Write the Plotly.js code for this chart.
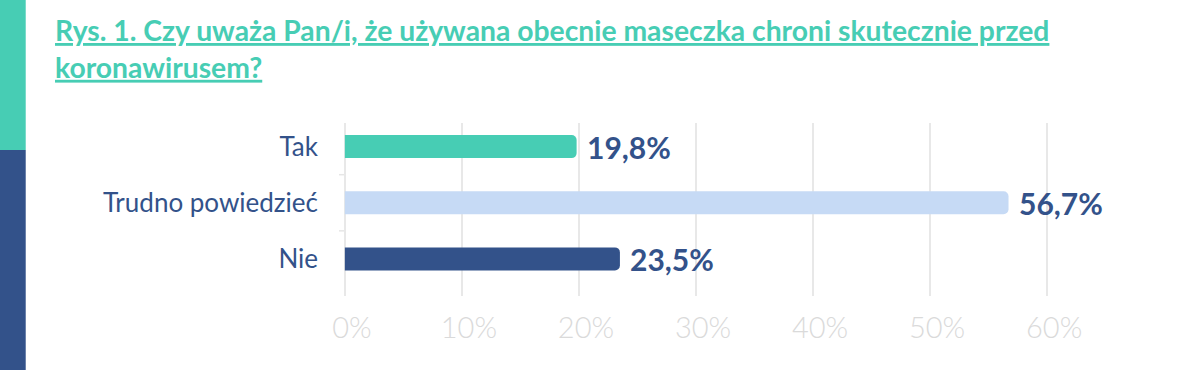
<!DOCTYPE html>
<html>
<head>
<meta charset="utf-8">
<script src="https://cdn.plot.ly/plotly-3.0.1.min.js"></script>
<style>html,body{margin:0;padding:0;background:#fff;}#chart{width:1191px;height:370px;}</style>
</head>
<body>
<div id="chart"></div>
<script>
const categories = ['Tak', 'Trudno powiedzieć', 'Nie'];
const values = [19.8, 56.7, 23.5];
const valueLabels = ['19,8%', '56,7%', '23,5%'];
const barColors = ['#47cdb4', '#c6daf5', '#33528a'];
const tickVals = [0, 10, 20, 30, 40, 50, 60];
const tickLabels = ['0%', '10%', '20%', '30%', '40%', '50%', '60%'];
const titleText = 'Rys. 1. Czy uważa Pan/i, że używana obecnie maseczka chroni skutecznie przed<br>koronawirusem?';

const W = 1191, H = 370;
const M = {l: 339.15, r: 138.15, t: 123, b: 74};
const PW = W - M.l - M.r, PH = H - M.t - M.b;
const px = v => (v - M.l) / PW;
const py = v => (H - M.b - v) / PH;

const trace = {
  type: 'bar', orientation: 'h',
  x: values, y: categories,
  width: 0.41,
  marker: {color: barColors, cornerradius: 5},
  hoverinfo: 'none'
};

const annotations = values.map((v, i) => ({
  x: v, y: categories[i], xref: 'x', yref: 'y',
  text: valueLabels[i], showarrow: false,
  xanchor: 'left', yanchor: 'middle', xshift: 8,
  font: {family: 'Lato', size: 30, color: '#33528a', weight: 700}
}));

const shapes = [
  {type: 'rect', xref: 'paper', yref: 'paper', x0: px(0), x1: px(26), y0: py(150), y1: py(0), fillcolor: '#47cdb4', line: {width: 0}, layer: 'below'},
  {type: 'rect', xref: 'paper', yref: 'paper', x0: px(0), x1: px(26), y0: py(370), y1: py(150), fillcolor: '#33528a', line: {width: 0}, layer: 'below'},
  {type: 'line', xref: 'x', yref: 'y', x0: -2.1, x1: 0, y0: 0.5, y1: 0.5, line: {color: '#e6e6e6', width: 1.5}, layer: 'below'},
  {type: 'line', xref: 'x', yref: 'y', x0: -2.1, x1: 0, y0: 1.5, y1: 1.5, line: {color: '#e6e6e6', width: 1.5}, layer: 'below'}
];

const layout = {
  width: W, height: H,
  margin: M,
  paper_bgcolor: '#ffffff', plot_bgcolor: '#ffffff',
  showlegend: false,
  font: {family: 'Lato', color: '#33528a'},
  title: {
    text: titleText,
    x: 55 / W, xref: 'container', xanchor: 'left',
    y: 1 - 41 / H, yref: 'container', yanchor: 'top',
    font: {family: 'Lato', size: 28.3, color: '#47cdb4', weight: 700, lineposition: 'under'}
  },
  xaxis: {
    range: [-0.5, 60.5],
    tickvals: tickVals, ticktext: tickLabels,
    showgrid: true, gridcolor: '#e8e8e8', gridwidth: 1.5,
    zeroline: false, showline: false, ticks: '',
    tickfont: {family: 'Lato', size: 29, color: '#dadada', weight: 300},
    ticklabelstandoff: 12,
    ticklabelshift: 7,
    fixedrange: true
  },
  yaxis: {
    type: 'category',
    range: [2.66, -0.42],
    showgrid: false, zeroline: false, showline: false, ticks: '',
    tickfont: {family: 'Lato', size: 26, color: '#33528a'},
    ticklabelstandoff: 20,
    fixedrange: true
  },
  shapes: shapes,
  annotations: annotations
};

Plotly.newPlot('chart', [trace], layout, {displayModeBar: false, staticPlot: true});
</script>
</body>
</html>
